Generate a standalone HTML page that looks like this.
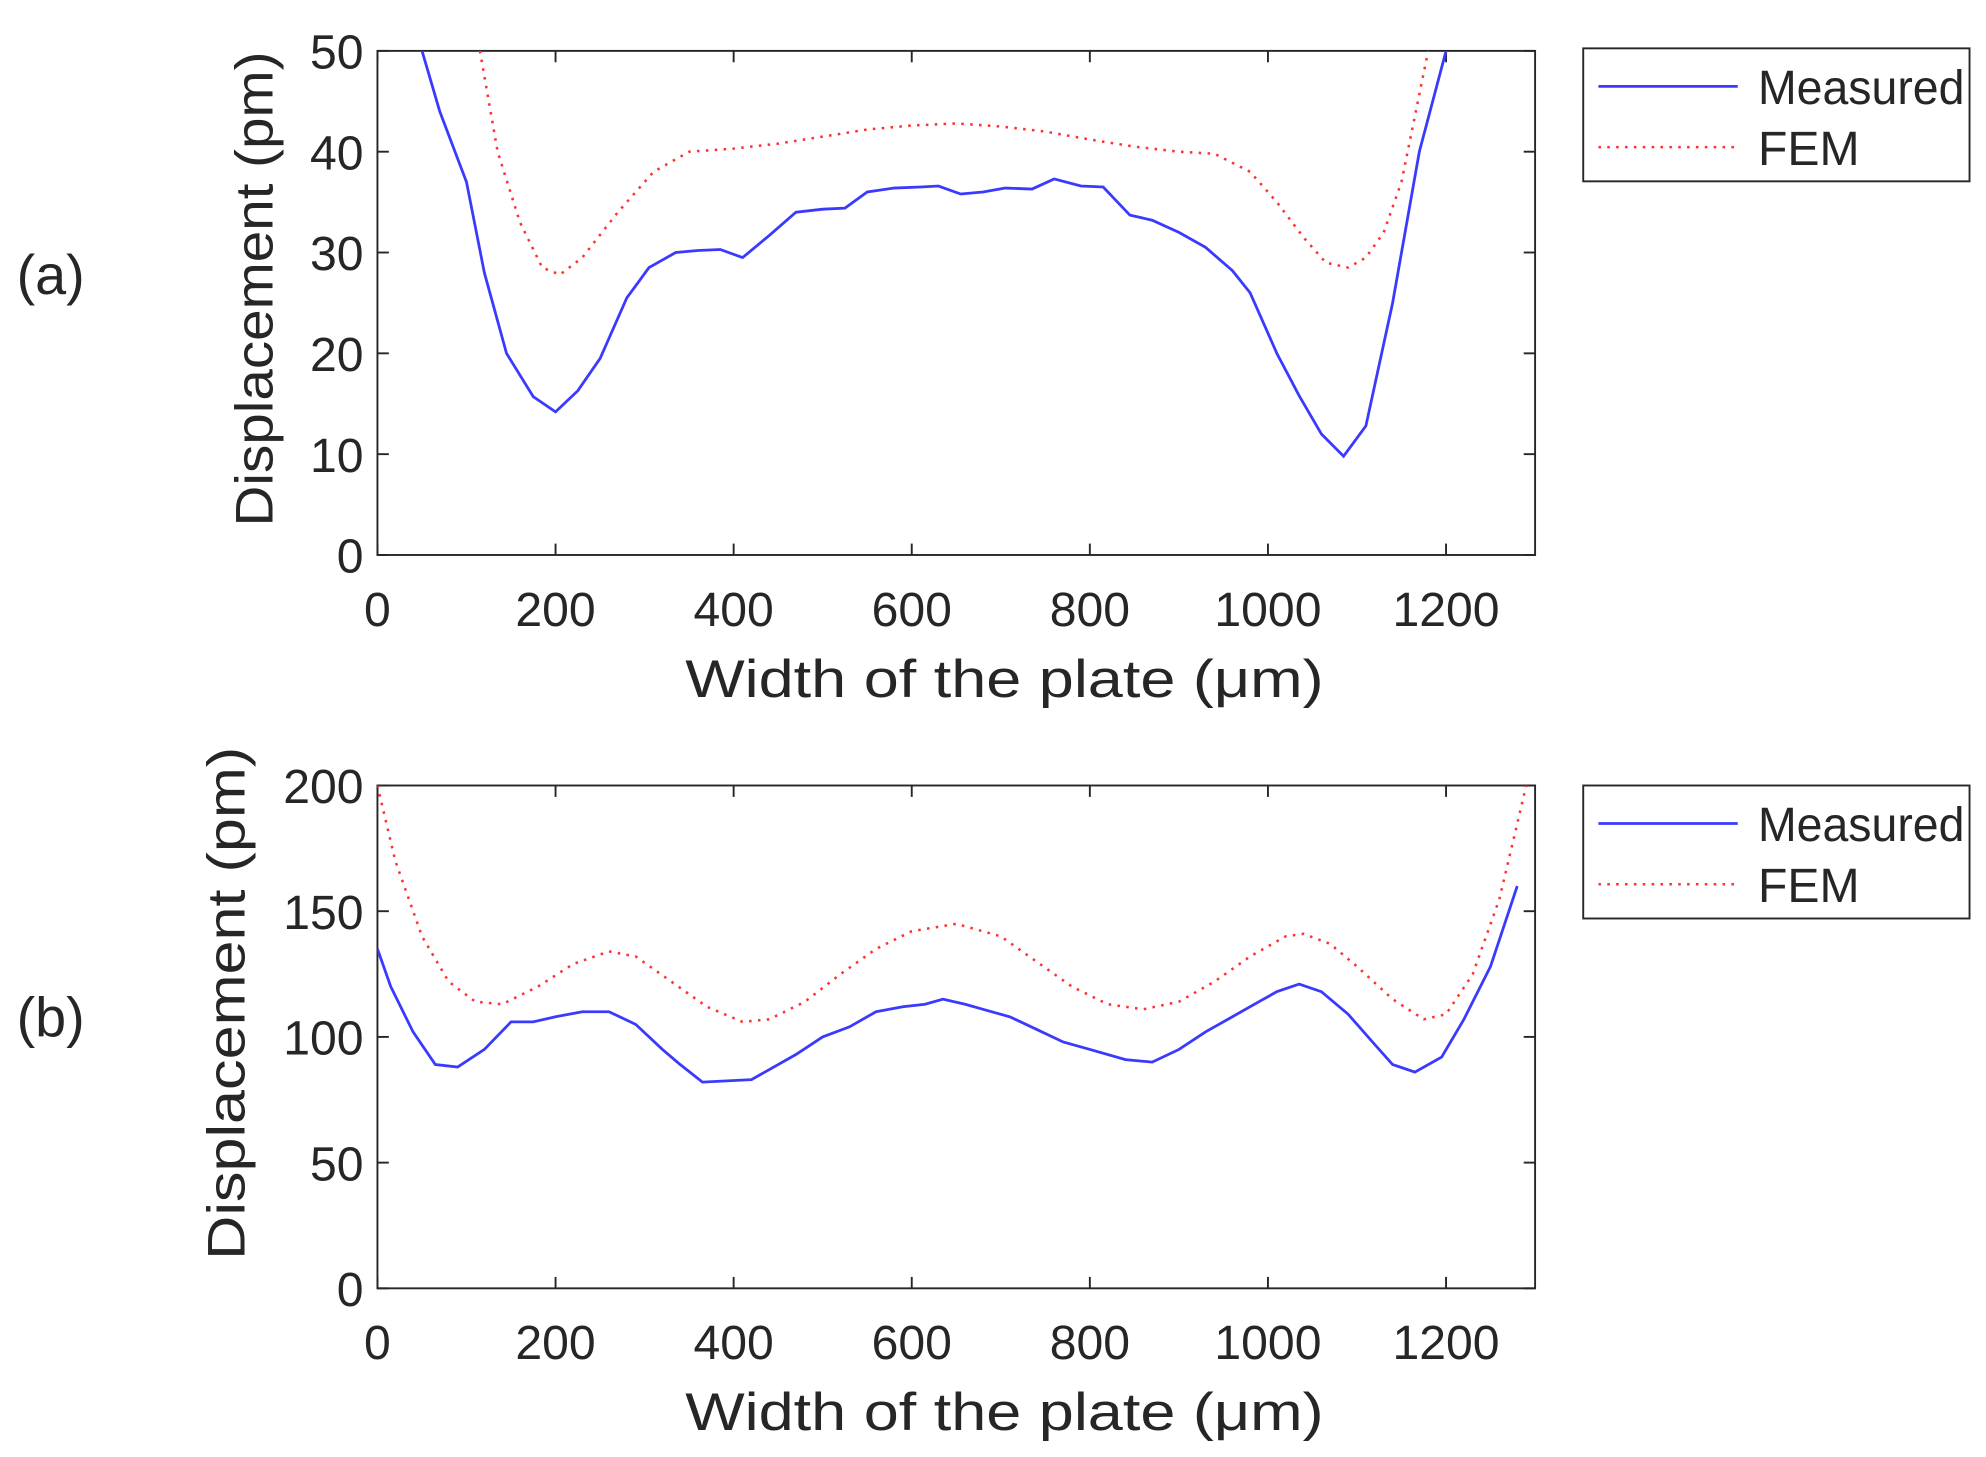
<!DOCTYPE html>
<html><head><meta charset="utf-8"><style>html,body{margin:0;padding:0;background:#fff}svg{display:block}text{font-family:"Liberation Sans",sans-serif;fill:#262626}</style></head>
<body>
<svg id="fig" width="1986" height="1457" viewBox="0 0 1568 1150" xmlns="http://www.w3.org/2000/svg">
<defs>
<clipPath id="ca"><rect x="298" y="40" width="914" height="398"/></clipPath>
<clipPath id="cb"><rect x="298" y="620" width="914" height="397"/></clipPath>
</defs>
<g id="root"></g>
</svg>
<script>
const xTicks=[0,200,400,600,800,1000,1200];
const aYTicks=[0,10,20,30,40,50];
const bYTicks=[0,50,100,150,200];
const aMeasX=[50,70,100,120,145,175,200,225,250,280,305,335,360,385,410,440,470,500,525,550,580,610,630,655,680,705,735,760,790,815,845,870,900,930,960,980,1010,1035,1060,1085,1110,1140,1170,1200];
const aMeasY=[50,44,37,28,20,15.7,14.2,16.3,19.5,25.5,28.5,30,30.2,30.3,29.5,31.7,34,34.3,34.4,36,36.4,36.5,36.6,35.8,36,36.4,36.3,37.3,36.6,36.5,33.7,33.2,32,30.5,28.2,26,20,15.8,12,9.8,12.8,25,40,50];
const aFemX=[115,135,160,185,205,230,270,310,350,400,450,500,550,600,650,700,750,800,850,900,940,980,1010,1040,1065,1090,1110,1130,1150,1180];
const aFemY=[50,40,33,28.5,27.8,29.5,34,38,40,40.3,40.8,41.5,42.2,42.6,42.8,42.5,42,41.2,40.5,40,39.8,38,35,31.5,29,28.5,29.5,32,37,50];
const bMeasX=[0,15,40,65,90,120,150,175,200,230,260,290,320,340,365,420,440,470,500,530,560,590,615,635,660,680,710,740,770,800,840,870,900,930,960,990,1010,1035,1060,1090,1120,1140,1165,1195,1220,1250,1280];
const bMeasY=[135,120,102,89,88,95,106,106,108,110,110,105,95,89,82,83,87,93,100,104,110,112,113,115,113,111,108,103,98,95,91,90,95,102,108,114,118,121,118,109,97,89,86,92,107,128,160];
const bFemX=[0,20,50,80,110,140,180,220,260,290,330,370,410,440,480,520,560,600,650,700,740,780,820,860,900,940,980,1020,1040,1070,1100,1140,1175,1200,1230,1260,1290];
const bFemY=[200,170,140,122,114,113,120,129,134,132,122,112,106,107,114,125,135,142,145,140,130,120,113,111,114,122,132,140,141,137,128,115,107,109,125,155,200];

const NS="http://www.w3.org/2000/svg";
const root=document.getElementById('root');
function mk(tag,attrs,parent,txt){const e=document.createElementNS(NS,tag);for(const k in attrs)e.setAttribute(k,attrs[k]);if(txt!==undefined)e.textContent=txt;(parent||root).appendChild(e);return e;}

function panel(p){
  const L=298,R=1212,T=p.top,B=p.bottom;
  const sx=v=>L+(v/1300)*(R-L);
  const sy=v=>B-(v/p.ymax)*(B-T);
  const g=mk('g',{});
  
  
  const box=mk('rect',{x:L,y:T,width:R-L,height:B-T,fill:'#fff',stroke:'#262626','stroke-width':1.5},g);
  
  
  xTicks.forEach(t=>{
    const x=sx(t);
    mk('line',{x1:x,y1:B,x2:x,y2:B-9,stroke:'#262626','stroke-width':1.5},g);
    mk('line',{x1:x,y1:T,x2:x,y2:T+9,stroke:'#262626','stroke-width':1.5},g);
    const tx=mk('text',{x:x,y:B+56,'font-size':38,'text-anchor':'middle'},g,String(t));
    
    
  });
  p.yTicks.forEach(t=>{
    const y=sy(t);
    mk('line',{x1:L,y1:y,x2:L+9,y2:y,stroke:'#262626','stroke-width':1.5},g);
    mk('line',{x1:R,y1:y,x2:R-9,y2:y,stroke:'#262626','stroke-width':1.5},g);
    const ty=mk('text',{x:287,y:y+14,'font-size':38,'text-anchor':'end'},g,String(t));
    
    
  });
  const xt=mk('text',{x:793,y:B+112,'font-size':42,'text-anchor':'middle',textLength:504,lengthAdjust:'spacingAndGlyphs'},g,'Width of the plate (μm)');
  
  
  const yt=mk('text',{x:0,y:0,'font-size':42,'text-anchor':'middle',textLength:p.ylen,lengthAdjust:'spacingAndGlyphs',transform:`translate(${p.ytx},${p.ytc}) rotate(-90)`},g,'Displacement (pm)');
  
  
  const lab=mk('text',{x:40,y:p.labY,'font-size':44,'text-anchor':'middle'},g,p.label);
  
  
  const pts=(xs,ys)=>xs.map((x,i)=>sx(x).toFixed(1)+','+sy(ys[i]).toFixed(1)).join(' ');
  const fem=mk('polyline',{points:pts(p.femX,p.femY),fill:'none',stroke:'#ff3030','stroke-width':2,'stroke-dasharray':'2 5','clip-path':`url(#${p.clip})`},g);
  
  
  const meas=mk('polyline',{points:pts(p.measX,p.measY),fill:'none',stroke:'#3a3aff','stroke-width':2.2,'clip-path':`url(#${p.clip})`},g);
  
  
  const lg=mk('g',{},g);
  
  
  mk('rect',{x:1250,y:p.legT,width:305,height:105,fill:'#fff',stroke:'#262626','stroke-width':1.5},lg);
  mk('line',{x1:1262,y1:p.legT+30,x2:1372,y2:p.legT+30,stroke:'#3a3aff','stroke-width':2.2},lg);
  const t1=mk('text',{x:1388,y:p.legT+44,'font-size':38,textLength:163,lengthAdjust:'spacingAndGlyphs'},lg,'Measured');
  
  
  mk('line',{x1:1262,y1:p.legT+78,x2:1372,y2:p.legT+78,stroke:'#ff3030','stroke-width':2,'stroke-dasharray':'2 5'},lg);
  const t2=mk('text',{x:1388,y:p.legT+92,'font-size':38},lg,'FEM');
  
  
}
panel({name:'a',top:40,bottom:438,ymax:50,yTicks:aYTicks,measX:aMeasX,measY:aMeasY,femX:aFemX,femY:aFemY,clip:'ca',ytx:215,ytc:228,ylen:375,label:'(a)',labY:232,legT:38});
panel({name:'b',top:620,bottom:1017,ymax:200,yTicks:bYTicks,measX:bMeasX,measY:bMeasY,femX:bFemX,femY:bFemY,clip:'cb',ytx:193,ytc:792,ylen:405,label:'(b)',labY:818,legT:620});
</script>
</body></html>
